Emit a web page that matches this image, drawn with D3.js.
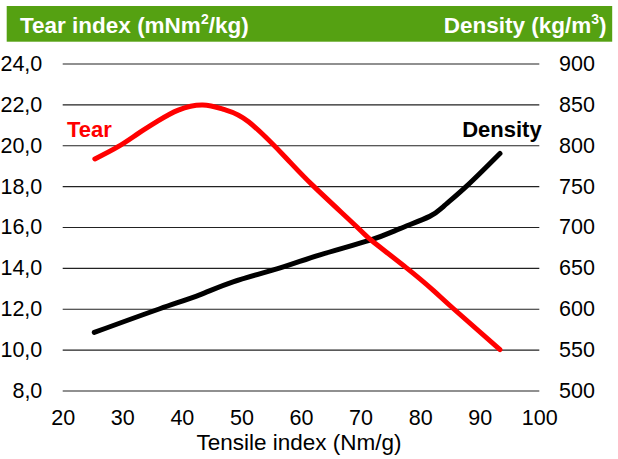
<!DOCTYPE html>
<html>
<head>
<meta charset="utf-8">
<script src="https://cdn.jsdelivr.net/npm/d3@7"></script>
<style>
  body { margin: 0; background: #fff; }
  svg { display: block; font-family: "Liberation Sans", Arial, sans-serif; }
  .axis text { font-size: 21.5px; fill: #000; font-family: "Liberation Sans", Arial, sans-serif; }
  .axis .domain { display: none; }
</style>
</head>
<body>
<svg id="chart" width="618" height="459"></svg>
<script>
// tensile index (Nm/g) for each curve
const tearTensile = [25.4, 29.3, 32.7, 36.0, 39.4, 43.5, 47.2, 51.2, 57.3, 62.1, 69.4, 72.0, 77.7, 82.2, 85.6, 93.4];
const tearValues  = [19.33, 19.93, 20.58, 21.19, 21.72, 21.97, 21.74, 21.15, 19.44, 18.0, 16.0, 15.3, 14.0, 12.9, 12.0, 10.0];

const densityTensile = [25.3, 36.3, 43.0, 48.6, 56.5, 63.2, 71.6, 76.6, 81.6, 83.9, 87.8, 93.4];
const densityValues  = [571, 600, 617, 633, 650, 666, 684, 698, 713, 725, 750, 790];

const xTicks = [20, 30, 40, 50, 60, 70, 80, 90, 100];
const tearTicks = [8, 10, 12, 14, 16, 18, 20, 22, 24];
const densityTicks = [500, 550, 600, 650, 700, 750, 800, 850, 900];

const svg = d3.select('#chart');
const margin = { top: 63.5, right: 78.7, bottom: 68.5, left: 62.7 };
const width = +svg.attr('width');
const height = +svg.attr('height');
const innerWidth = width - margin.left - margin.right;
const innerHeight = height - margin.top - margin.bottom;

const commaLocale = d3.formatLocale({ decimal: ',', thousands: '.', grouping: [3], currency: ['', ''] });

const xScale = d3.scaleLinear().domain([20, 100]).range([0, innerWidth]);
const yTear = d3.scaleLinear().domain([8, 24]).range([innerHeight, 0]);
const yDensity = d3.scaleLinear().domain([500, 900]).range([innerHeight, 0]);

// header band
svg.append('rect')
  .attr('x', 6.7).attr('y', 6)
  .attr('width', 605.5).attr('height', 35.7)
  .attr('fill', '#55a112');

const leftTitle = svg.append('text')
  .attr('x', 20).attr('y', 33.3)
  .attr('fill', '#fff')
  .attr('font-size', 22.5)
  .attr('font-weight', 'bold');
leftTitle.append('tspan').text('Tear index (mNm');
leftTitle.append('tspan').attr('font-size', 14).attr('dy', -9).text('2');
leftTitle.append('tspan').attr('dy', 9).text('/kg)');

const rightTitle = svg.append('text')
  .attr('x', 606.5).attr('y', 33.3)
  .attr('text-anchor', 'end')
  .attr('fill', '#fff')
  .attr('font-size', 22.5)
  .attr('font-weight', 'bold');
rightTitle.append('tspan').text('Density (kg/m');
rightTitle.append('tspan').attr('font-size', 14).attr('dy', -9).text('3');
rightTitle.append('tspan').attr('dy', 9).text(')');

const g = svg.append('g')
  .attr('transform', `translate(${margin.left},${margin.top})`);

const yAxisG = g.append('g').attr('class', 'axis')
  .call(d3.axisLeft(yTear)
    .tickValues(tearTicks)
    .tickSize(-innerWidth)
    .tickPadding(20.4)
    .tickFormat(commaLocale.format('.1f')));
yAxisG.selectAll('.tick line').attr('stroke', '#222').attr('stroke-width', 1.2);

g.append('g').attr('class', 'axis')
  .attr('transform', `translate(${innerWidth},0)`)
  .call(d3.axisRight(yDensity)
    .tickValues(densityTicks)
    .tickSize(0)
    .tickPadding(19.7))
  .selectAll('.tick line').remove();

g.append('g').attr('class', 'axis')
  .attr('transform', `translate(0,${innerHeight})`)
  .call(d3.axisBottom(xScale)
    .tickValues(xTicks)
    .tickSize(0)
    .tickPadding(19))
  .selectAll('.tick line').remove();

svg.append('text')
  .attr('x', margin.left + innerWidth / 2 - 2)
  .attr('y', 450)
  .attr('text-anchor', 'middle')
  .attr('font-size', 22.5)
  .text('Tensile index (Nm/g)');

const tearData = tearTensile.map((t, i) => ({ x: t, y: tearValues[i] }));
const densityData = densityTensile.map((t, i) => ({ x: t, y: densityValues[i] }));

const tearLine = d3.line()
  .x(d => xScale(d.x))
  .y(d => yTear(d.y))
  .curve(d3.curveNatural);

const densityLine = d3.line()
  .x(d => xScale(d.x))
  .y(d => yDensity(d.y))
  .curve(d3.curveNatural);

g.append('path')
  .datum(densityData)
  .attr('fill', 'none')
  .attr('stroke', '#000')
  .attr('stroke-width', 5)
  .attr('stroke-linecap', 'round')
  .attr('d', densityLine);

g.append('path')
  .datum(tearData)
  .attr('fill', 'none')
  .attr('stroke', '#ff0000')
  .attr('stroke-width', 5)
  .attr('stroke-linecap', 'round')
  .attr('d', tearLine);

svg.append('text')
  .attr('x', 67).attr('y', 137.3)
  .attr('fill', '#ff0000')
  .attr('font-size', 22)
  .attr('font-weight', 'bold')
  .text('Tear');

svg.append('text')
  .attr('x', 541.7).attr('y', 137)
  .attr('text-anchor', 'end')
  .attr('fill', '#000')
  .attr('font-size', 22)
  .attr('font-weight', 'bold')
  .text('Density');
</script>
</body>
</html>
